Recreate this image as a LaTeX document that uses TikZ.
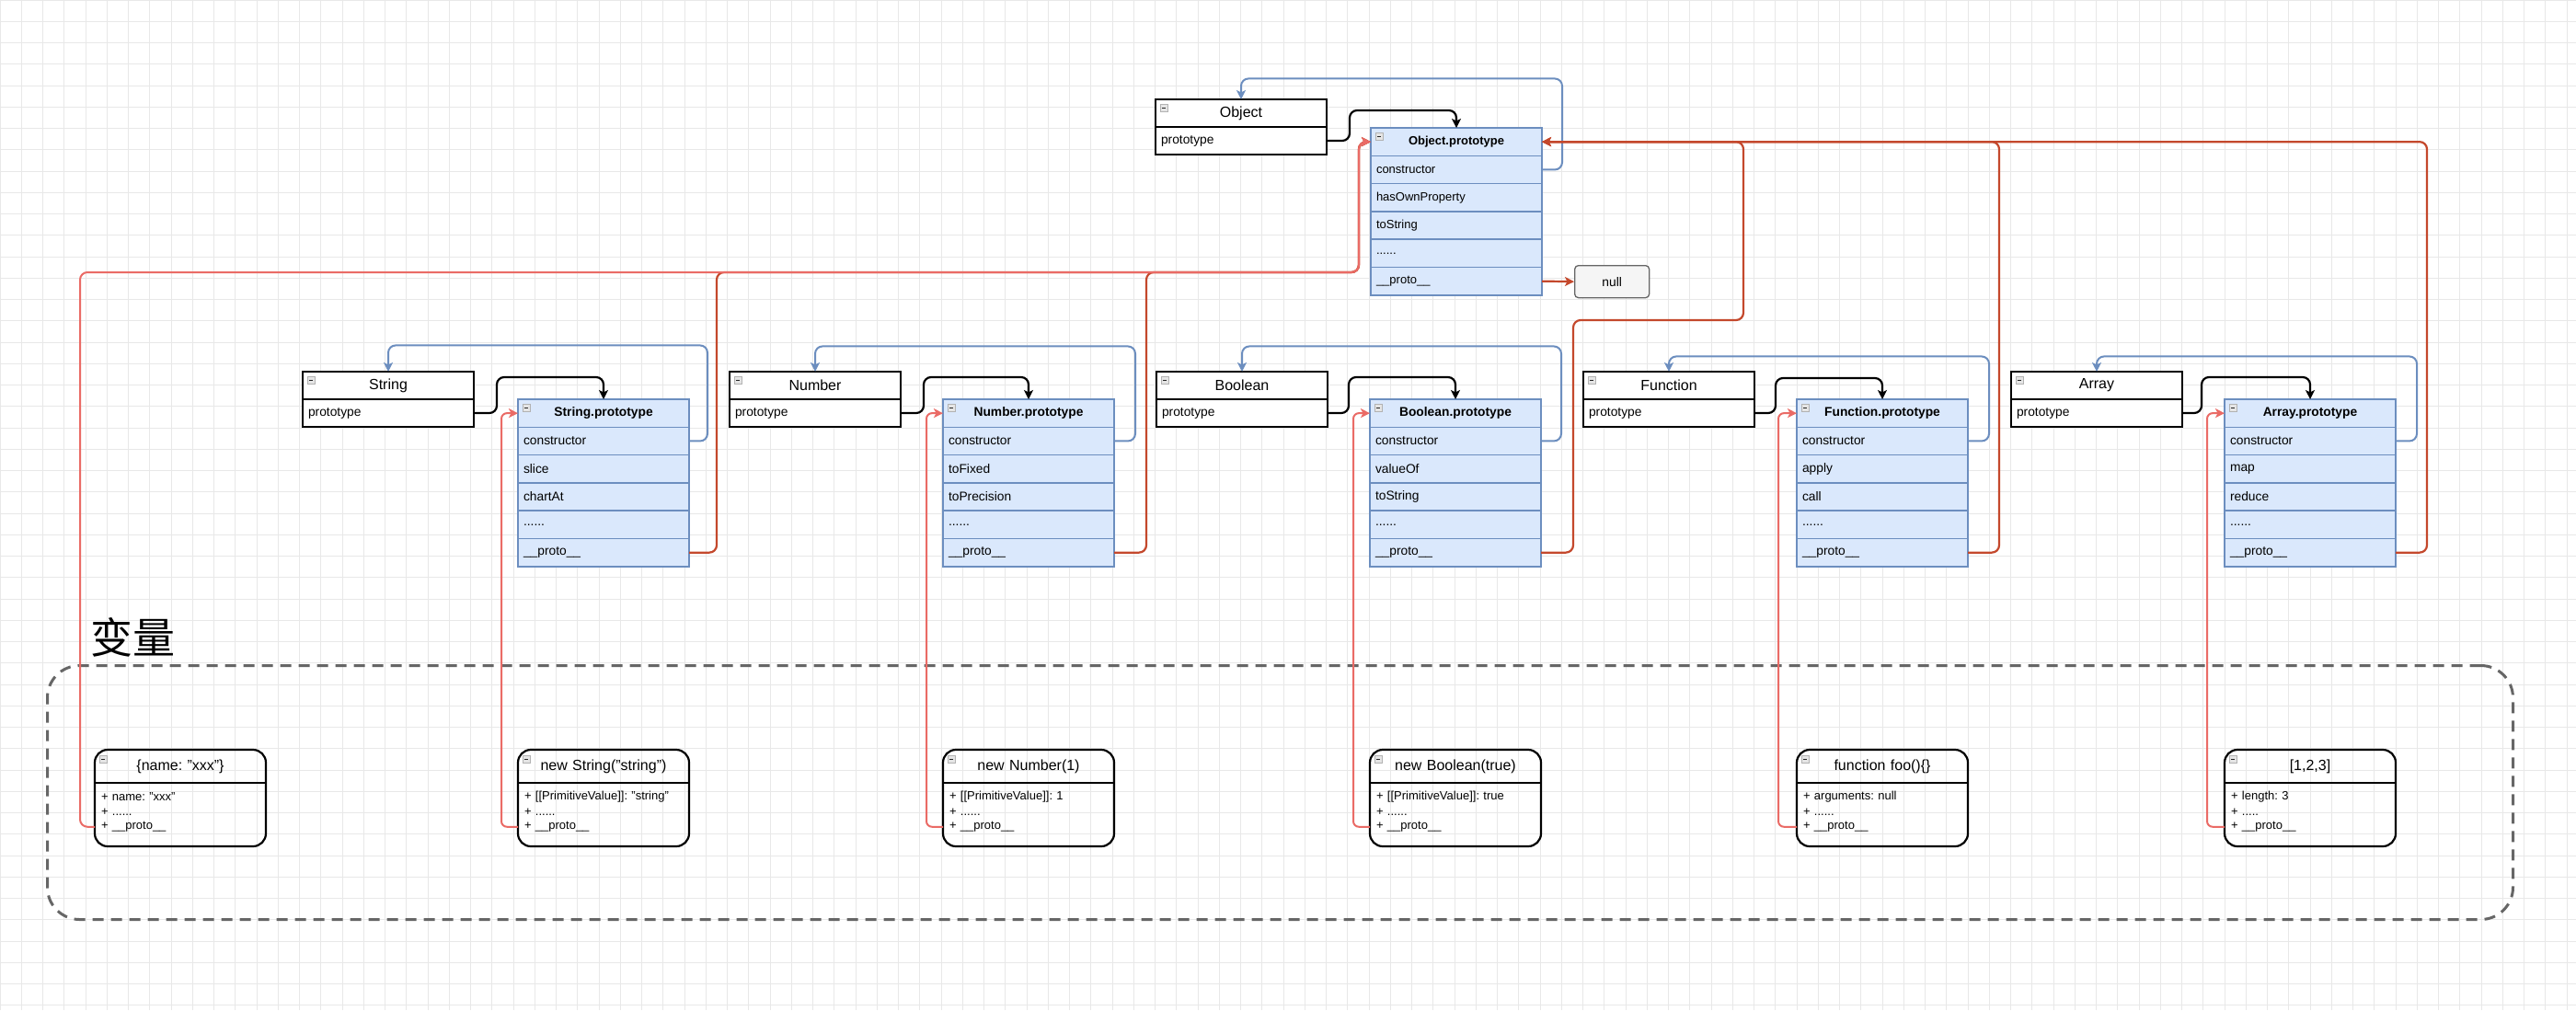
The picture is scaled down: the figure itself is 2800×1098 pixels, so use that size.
\documentclass[tikz,border=0pt]{standalone}
\usepackage{fontspec}
\setmainfont{Liberation Sans}
\newfontfamily\cjk{Noto Sans CJK SC}
\usetikzlibrary{arrows.meta, positioning, calc}
\definecolor{protoblue}{RGB}{108, 142, 191}
\definecolor{protofill}{RGB}{218, 232, 252}
\definecolor{chainred}{RGB}{196, 72, 44}
\definecolor{instred}{RGB}{234, 107, 102}
\definecolor{nullgray}{RGB}{102, 102, 102}
\definecolor{nullfill}{RGB}{245, 245, 245}
\definecolor{gridgray}{RGB}{232, 232, 232}

\tikzset{
  ctorhead/.style={draw=black, line width=2pt, fill=white, text width=186pt, minimum height=30pt, inner sep=0pt, outer sep=0pt, align=center, font=\fontsize{16pt}{18pt}\selectfont, anchor=north west},
  ctorrow/.style={draw=black, line width=2pt, fill=white, text width=174pt, inner xsep=6pt, inner ysep=0pt, minimum height=30pt, outer sep=0pt, align=left, font=\fontsize{13.8pt}{16pt}\selectfont},
  protohead/.style={draw=protoblue, line width=1.6pt, fill=protofill, text width=186pt, minimum height=30.3pt, inner sep=0pt, outer sep=0pt, align=center, font=\fontsize{13.8pt}{16pt}\selectfont\bfseries, anchor=north west},
  protorow/.style={draw=protoblue, line width=1.6pt, fill=protofill, text width=174pt, inner xsep=6pt, inner ysep=0pt, minimum height=30.3pt, outer sep=0pt, align=left, font=\fontsize{13.8pt}{16pt}\selectfont},
  objfont/.style={font=\fontsize{13pt}{15pt}\selectfont},
  varbox/.style={draw=black, line width=2.2pt, rounded corners=14pt, minimum width=186pt, minimum height=105pt, inner sep=0pt, outer sep=0pt, anchor=north west},
  vartitle/.style={text width=186pt, minimum height=36pt, inner sep=0pt, outer sep=0pt, align=center, font=\fontsize{16pt}{18pt}\selectfont, anchor=north},
  varline/.style={text width=172pt, minimum height=16.5pt, inner sep=0pt, outer sep=0pt, align=left, font=\fontsize{13pt}{15pt}\selectfont},
  nullbox/.style={draw=nullgray, line width=1.3pt, fill=nullfill, rounded corners=4pt, minimum width=81pt, minimum height=35pt, inner sep=0pt, font=\fontsize{13.8pt}{16pt}\selectfont, anchor=north west},
  varframe/.style={draw=nullgray, line width=3pt, dash pattern=on 12pt off 8pt, rounded corners=35pt, minimum width=2680pt, minimum height=276pt, inner sep=0pt, anchor=north west},
  ptr/.style={draw=black, line width=2.2pt, rounded corners=8pt, -{Stealth[length=10pt, width=10pt, inset=2.5pt]}},
  ctorlink/.style={draw=protoblue, line width=2pt, rounded corners=8pt, -{Stealth[length=10pt, width=10pt, inset=2.5pt]}},
  chain/.style={draw=chainred, line width=2.2pt, rounded corners=8pt, -{Stealth[length=10pt, width=10pt, inset=2.5pt]}},
  instlink/.style={draw=instred, line width=2pt, rounded corners=6pt, -{Stealth[length=10pt, width=10pt, inset=2.5pt]}},
  fold/.pic={
    \draw[gray!60, fill=gray!20, line width=0.6pt] (0,0) rectangle (8,8);
    \draw[gray!30!black, line width=0.9pt] (2,4) -- (6,4);
  }
}

\begin{document}
\frenchspacing
\begin{tikzpicture}[x=1pt, y=-1pt]
  \useasboundingbox (0,0) rectangle (2800,1098);
  \fill[white] (0,0) rectangle (2800,1098);
  \draw[gridgray, line width=0.6pt, step=23.25pt] (0,1098) grid (2800,0);

  % variables area
  \node[varframe] (varscope) at (50,722) {};
  \node[font=\cjk\fontsize{46pt}{50pt}\selectfont] (varlabel) at (144,693) {变量};

  % Object
  \node[ctorhead] (obj) at (1256,108) {Object};
  \node[ctorrow, below=0pt of obj] (objp) {prototype};
  \node[protohead, font=\fontsize{13pt}{15pt}\selectfont\bfseries] (objproto) at (1490,139) {Object.prototype};
  \node[protorow, objfont, below=0pt of objproto] (objctor) {constructor};
  \node[protorow, objfont, below=0pt of objctor] (objm1) {hasOwnProperty};
  \node[protorow, objfont, below=0pt of objm1] (objm2) {toString};
  \node[protorow, objfont, below=0pt of objm2] (objdots) {......};
  \node[protorow, objfont, below=0pt of objdots] (objpp) {\_\_proto\_\_};
  \node[nullbox] (nullval) at (1711,288) {null};

  % String
  \node[ctorhead] (str) at (329,404) {String};
  \node[ctorrow, below=0pt of str] (strp) {prototype};
  \node[protohead] (strproto) at (563,434) {String.prototype};
  \node[protorow, below=0pt of strproto] (strctor) {constructor};
  \node[protorow, below=0pt of strctor] (strm1) {slice};
  \node[protorow, below=0pt of strm1] (strm2) {chartAt};
  \node[protorow, below=0pt of strm2] (strdots) {......};
  \node[protorow, below=0pt of strdots] (strpp) {\_\_proto\_\_};

  % Number
  \node[ctorhead] (num) at (793,404) {Number};
  \node[ctorrow, below=0pt of num] (nump) {prototype};
  \node[protohead] (numproto) at (1025,434) {Number.prototype};
  \node[protorow, below=0pt of numproto] (numctor) {constructor};
  \node[protorow, below=0pt of numctor] (numm1) {toFixed};
  \node[protorow, below=0pt of numm1] (numm2) {toPrecision};
  \node[protorow, below=0pt of numm2] (numdots) {......};
  \node[protorow, below=0pt of numdots] (numpp) {\_\_proto\_\_};

  % Boolean
  \node[ctorhead] (bool) at (1257,404) {Boolean};
  \node[ctorrow, below=0pt of bool] (boolp) {prototype};
  \node[protohead] (boolproto) at (1489,434) {Boolean.prototype};
  \node[protorow, below=0pt of boolproto] (boolctor) {constructor};
  \node[protorow, below=0pt of boolctor] (boolm1) {valueOf};
  \node[protorow, below=0pt of boolm1] (boolm2) {toString};
  \node[protorow, below=0pt of boolm2] (booldots) {......};
  \node[protorow, below=0pt of booldots] (boolpp) {\_\_proto\_\_};

  % Function
  \node[ctorhead] (fun) at (1721,404) {Function};
  \node[ctorrow, below=0pt of fun] (funp) {prototype};
  \node[protohead] (funproto) at (1953,434) {Function.prototype};
  \node[protorow, below=0pt of funproto] (functor) {constructor};
  \node[protorow, below=0pt of functor] (funm1) {apply};
  \node[protorow, below=0pt of funm1] (funm2) {call};
  \node[protorow, below=0pt of funm2] (fundots) {......};
  \node[protorow, below=0pt of fundots] (funpp) {\_\_proto\_\_};

  % Array
  \node[ctorhead] (arr) at (2186,404) {Array};
  \node[ctorrow, below=0pt of arr] (arrp) {prototype};
  \node[protohead] (arrproto) at (2418,434) {Array.prototype};
  \node[protorow, below=0pt of arrproto] (arrctor) {constructor};
  \node[protorow, below=0pt of arrctor] (arrm1) {map};
  \node[protorow, below=0pt of arrm1] (arrm2) {reduce};
  \node[protorow, below=0pt of arrm2] (arrdots) {......};
  \node[protorow, below=0pt of arrdots] (arrpp) {\_\_proto\_\_};

  % instances
  \node[varbox] (litvar) at (103,815) {};
  \node[vartitle] (litvart) at (litvar.north) {\{name: "xxx"\}};
  \node[varline, below=6.5pt of litvart] (litva) {+ name: "xxx"};
  \node[varline, below=0pt of litva] (litvb) {+ ......};
  \node[varline, below=0pt of litvb] (litvpp) {+ \_\_proto\_\_};

  \node[varbox] (strvar) at (563,815) {};
  \node[vartitle] (strvart) at (strvar.north) {new String("string")};
  \node[varline, below=6.5pt of strvart] (strva) {+ [[PrimitiveValue]]: "string"};
  \node[varline, below=0pt of strva] (strvb) {+ ......};
  \node[varline, below=0pt of strvb] (strvpp) {+ \_\_proto\_\_};

  \node[varbox] (numvar) at (1025,815) {};
  \node[vartitle] (numvart) at (numvar.north) {new Number(1)};
  \node[varline, below=6.5pt of numvart] (numva) {+ [[PrimitiveValue]]: 1};
  \node[varline, below=0pt of numva] (numvb) {+ ......};
  \node[varline, below=0pt of numvb] (numvpp) {+ \_\_proto\_\_};

  \node[varbox] (boolvar) at (1489,815) {};
  \node[vartitle] (boolvart) at (boolvar.north) {new Boolean(true)};
  \node[varline, below=6.5pt of boolvart] (boolva) {+ [[PrimitiveValue]]: true};
  \node[varline, below=0pt of boolva] (boolvb) {+ ......};
  \node[varline, below=0pt of boolvb] (boolvpp) {+ \_\_proto\_\_};

  \node[varbox] (funvar) at (1953,815) {};
  \node[vartitle] (funvart) at (funvar.north) {function foo()\{\}};
  \node[varline, below=6.5pt of funvart] (funva) {+ arguments: null};
  \node[varline, below=0pt of funva] (funvb) {+ ......};
  \node[varline, below=0pt of funvb] (funvpp) {+ \_\_proto\_\_};

  \node[varbox] (arrvar) at (2418,815) {};
  \node[vartitle] (arrvart) at (arrvar.north) {[1,2,3]};
  \node[varline, below=6.5pt of arrvart] (arrva) {+ length: 3};
  \node[varline, below=0pt of arrva] (arrvb) {+ .....};
  \node[varline, below=0pt of arrvb] (arrvpp) {+ \_\_proto\_\_};

  \foreach \v in {litvart, strvart, numvart, boolvart, funvart, arrvart}
    \draw[line width=2pt] (\v.south west) -- (\v.south east);

  % collapse icons
  \foreach \b in {obj, objproto, str, strproto, num, numproto, bool, boolproto, fun, funproto, arr, arrproto}
    \pic at ($(\b.north west)+(5,5)$) {fold};
  \foreach \b in {litvar, strvar, numvar, boolvar, funvar, arrvar}
    \pic at ($(\b.north west)+(5,6)$) {fold};

  % prototype and constructor links
  \draw[ptr] (objp.east) -- ++(25,0) -- ++(0,-33) -| (objproto.north);
  \draw[ctorlink] (objctor.east) -- ++(22,0) -- ++(0,-99) -| (obj.north);
  \draw[ptr] (strp.east) -- ++(25,0) -- ++(0,-39) -| (strproto.north);
  \draw[ctorlink] (strctor.east) -- ++(20,0) -- ++(0,-104) -| (str.north);
  \draw[ptr] (nump.east) -- ++(25,0) -- ++(0,-39) -| (numproto.north);
  \draw[ctorlink] (numctor.east) -- ++(23,0) -- ++(0,-103) -| (num.north);
  \draw[ptr] (boolp.east) -- ++(23,0) -- ++(0,-39) -| (boolproto.north);
  \draw[ctorlink] (boolctor.east) -- ++(22,0) -- ++(0,-103) -| (bool.north);
  \draw[ptr] (funp.east) -- ++(23,0) -- ++(0,-38) -| (funproto.north);
  \draw[ctorlink] (functor.east) -- ++(23,0) -- ++(0,-92) -| (fun.north);
  \draw[ptr] (arrp.east) -- ++(21,0) -- ++(0,-39) -| (arrproto.north);
  \draw[ctorlink] (arrctor.east) -- ++(23,0) -- ++(0,-92) -| (arr.north);

  % __proto__ chain
  \coordinate (objin) at (1477,296);
  \coordinate (boolhop) at (1895,348);
  \draw[chain] (objpp.east) -- (nullval.west);
  \draw[chain] (strpp.east) -- ++(30,0) |- (objin) |- (objproto.west);
  \draw[chain] (numpp.east) -- ++(35,0) |- (objin) |- (objproto.west);
  \draw[chain] (boolpp.east) -- ++(35,0) |- (boolhop) |- (objproto.east);
  \draw[chain] (funpp.east) -- ++(34,0) |- (objproto.east);
  \draw[chain] (arrpp.east) -- ++(34,0) |- (objproto.east);

  % instances to prototypes
  \draw[instlink, rounded corners=8pt] (litvpp.west -| litvar.west) -- ++(-16,0) |- (objin) |- (objproto.west);
  \draw[instlink] (strvpp.west -| strvar.west) -- ++(-18,0) |- (strproto.west);
  \draw[instlink] (numvpp.west -| numvar.west) -- ++(-18,0) |- (numproto.west);
  \draw[instlink] (boolvpp.west -| boolvar.west) -- ++(-18,0) |- (boolproto.west);
  \draw[instlink] (funvpp.west -| funvar.west) -- ++(-20,0) |- (funproto.west);
  \draw[instlink] (arrvpp.west -| arrvar.west) -- ++(-19,0) |- (arrproto.west);
\end{tikzpicture}
\end{document}
